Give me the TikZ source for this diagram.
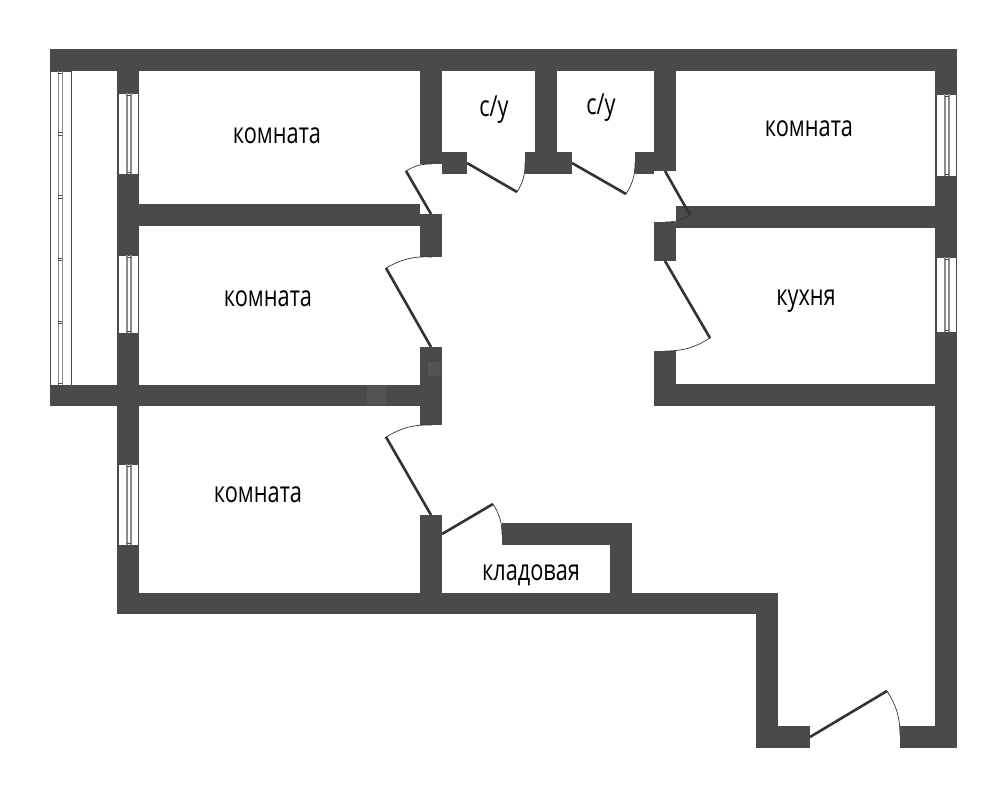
\documentclass[tikz,border=0pt]{standalone}
\usepackage{fontspec}
\newfontfamily\lblfont[FakeStretch=0.75]{Open Sans}
\definecolor{wall}{HTML}{4A4A4A}
\definecolor{wallpatch}{HTML}{545454}
\definecolor{glass}{HTML}{8A8A8A}
\definecolor{leaf}{HTML}{333333}
\tikzset{
  x=1pt,y=-1pt,
  wallfill/.style={fill=wall,draw=none},
  patchfill/.style={fill=wallpatch,draw=none},
  frame/.style={fill=white,draw=wall,line width=0.9pt},
  pane/.style={draw=glass,line width=1.8pt},
  tick/.style={draw=wall,line width=0.8pt},
  doorleaf/.style={draw=leaf,line width=2.6pt},
  doorarc/.style={draw=leaf,line width=0.7pt},
  room/.style={font=\lblfont\fontsize{29}{29}\selectfont,text=black,inner sep=0pt},
}
% vertical window: x1 x2 y1 y2
\newcommand{\winV}[4]{%
  \draw[frame] (#1,#3) rectangle (#2,#4);
  \pgfmathsetmacro{\pa}{#1+8.6}\pgfmathsetmacro{\pb}{#1+12.6}
  \draw[pane] (\pa,#3) -- (\pa,#4);
  \draw[pane] (\pb,#3) -- (\pb,#4);
  \pgfmathsetmacro{\ta}{#3+2}\pgfmathsetmacro{\tb}{#4-2}
  \draw[tick] (\pa,\ta) -- (\pb,\ta);
  \draw[tick] (\pa,\tb) -- (\pb,\tb);
}
% door: hinge, leaf end, arc end, bend
\newcommand{\doorD}[4]{%
  \draw[doorleaf] (#1) -- (#2);
  \draw[doorarc] (#2) to[bend #4=16] (#3);
}
\begin{document}
\begin{tikzpicture}
\useasboundingbox (0,0) rectangle (1006,797);
\fill[white] (0,0) rectangle (1006,797);
% outer walls
\fill[wallfill] (50,49) rectangle (957,71);
\fill[wallfill] (117,71) rectangle (139,614);
\fill[wallfill] (935,71) rectangle (957,748);
\fill[wallfill] (50,385) rectangle (420,406);
\fill[wallfill] (117,593) rectangle (778,614);
\fill[wallfill] (756,593) rectangle (778,748);
\fill[wallfill] (756,726) rectangle (810,748);
\fill[wallfill] (900,726) rectangle (957,748);
% inner walls
\fill[wallfill] (139,204) rectangle (420,226);
\fill[wallfill] (420,71) rectangle (442,164);
\fill[wallfill] (442,152) rectangle (467,174);
\fill[wallfill] (535,71) rectangle (557,152);
\fill[wallfill] (525,152) rectangle (572,174);
\fill[wallfill] (654,71) rectangle (676,171);
\fill[wallfill] (635,152) rectangle (654,174);
\fill[wallfill] (420,214) rectangle (442,257);
\fill[wallfill] (676,206) rectangle (936,228);
\fill[wallfill] (654,222) rectangle (676,261);
\fill[wallfill] (654,351) rectangle (676,406);
\fill[wallfill] (654,384) rectangle (936,406);
\fill[wallfill] (420,347) rectangle (442,425);
\fill[wallfill] (420,515) rectangle (442,593);
\fill[wallfill] (502,523) rectangle (632,545);
\fill[wallfill] (610,523) rectangle (632,593);
% faint patches in the walls
\fill[patchfill] (367,385) rectangle (386,405);
\fill[patchfill] (428,362) rectangle (441,376);
% balcony
\draw[frame] (50,71) rectangle (71,385);
\draw[pane] (58.4,71) -- (58.4,385);
\draw[pane] (62.4,71) -- (62.4,385);
\foreach \yy in {73,132.5,135,195.5,198,258,260.5,321,323.5,383}
  \draw[tick] (58.4,\yy) -- (62.4,\yy);
% windows
\winV{118}{138.5}{93}{174}
\winV{118}{138.5}{255}{333}
\winV{118}{138.5}{464}{545}
\winV{936}{956.5}{94}{176}
\winV{936}{956.5}{257}{332}
% doors
\coordinate (d1h) at (431,214); \coordinate (d1l) at (406,171); \coordinate (d1a) at (432,164);
\coordinate (d2h) at (431,347); \coordinate (d2l) at (386,268); \coordinate (d2a) at (432,257);
\coordinate (d3h) at (431,515); \coordinate (d3l) at (386,437); \coordinate (d3a) at (432,425);
\coordinate (d4h) at (442,534); \coordinate (d4l) at (493,504); \coordinate (d4a) at (502,535);
\coordinate (d5h) at (467,163); \coordinate (d5l) at (517,192); \coordinate (d5a) at (525,163);
\coordinate (d6h) at (572,163); \coordinate (d6l) at (626,194); \coordinate (d6a) at (635,163);
\coordinate (d7h) at (665,171); \coordinate (d7l) at (690,215); \coordinate (d7a) at (665,222);
\coordinate (d8h) at (665,261); \coordinate (d8l) at (710,338); \coordinate (d8a) at (665,351);
\coordinate (d9h) at (810,737); \coordinate (d9l) at (887,691); \coordinate (d9a) at (900,735);
\doorD{d1h}{d1l}{d1a}{left}
\doorD{d2h}{d2l}{d2a}{left}
\doorD{d3h}{d3l}{d3a}{left}
\doorD{d4h}{d4l}{d4a}{left}
\doorD{d5h}{d5l}{d5a}{right}
\doorD{d6h}{d6l}{d6a}{right}
\doorD{d7h}{d7l}{d7a}{left}
\doorD{d8h}{d8l}{d8a}{left}
\doorD{d9h}{d9l}{d9a}{left}
% labels
\node[room] (r1) at (277,136) {комната};
\node[room] (r2) at (268,299) {комната};
\node[room] (r3) at (258,495) {комната};
\node[room] (r4) at (809,129) {комната};
\node[room] (r5) at (806,301) {кухня};
\node[room] (r6) at (531,575) {кладовая};
\node[room] (r7) at (494,110) {с/у};
\node[room] (r8) at (601,108) {с/у};
\end{tikzpicture}
\end{document}
